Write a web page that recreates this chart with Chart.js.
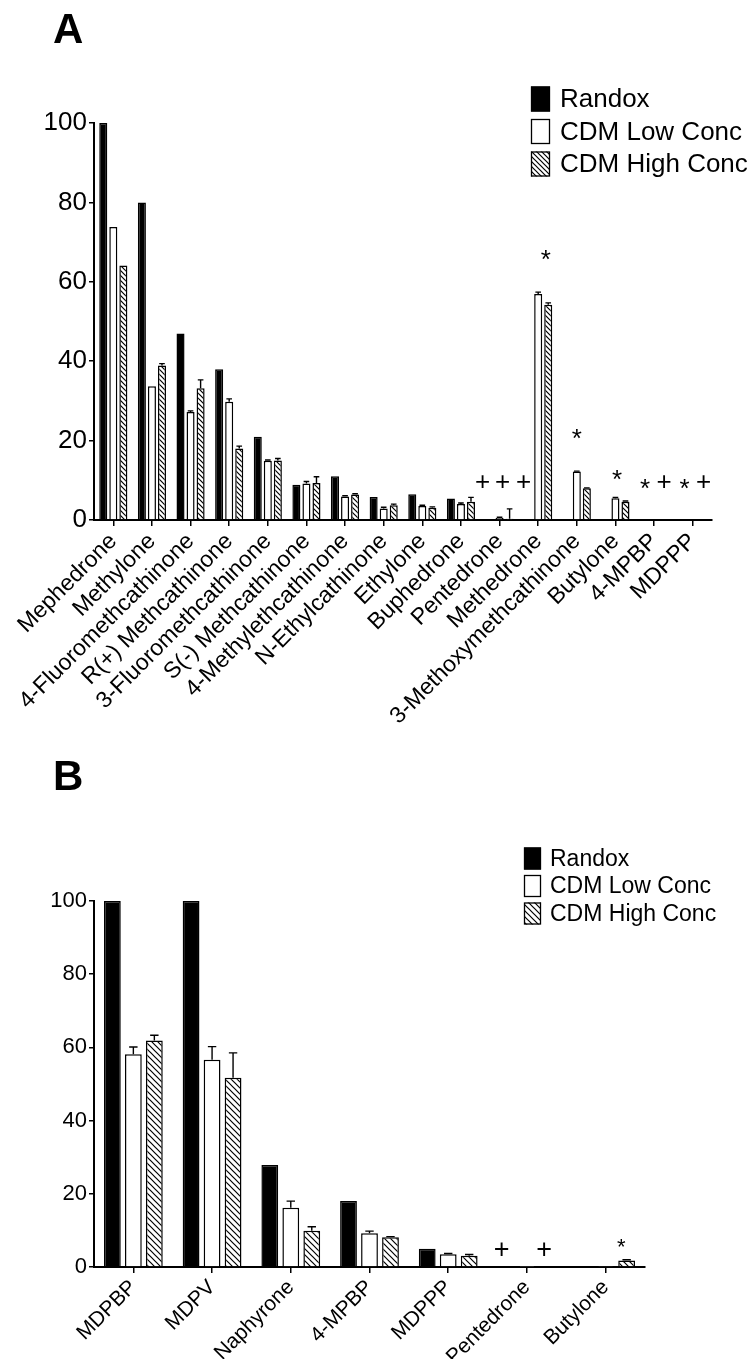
<!DOCTYPE html>
<html><head><meta charset="utf-8">
<script src="https://cdn.jsdelivr.net/npm/chart.js@4.4.1/dist/chart.umd.min.js"></script>
<style>
html,body{margin:0;padding:0;background:#fff;}
#wrap{position:relative;width:753px;height:1359px;overflow:hidden;}
canvas{position:absolute;left:0;}
#cA{top:0;} #cB{top:740px;}
</style></head><body>
<div id="wrap"><canvas id="cA" width="753" height="740"></canvas><canvas id="cB" width="753" height="619"></canvas></div>
<script>
const seriesNames = ['Randox','CDM Low Conc','CDM High Conc'];

// Panel A
const catsA = ['Mephedrone','Methylone','4-Fluoromethcathinone','R(+) Methcathinone','3-Fluoromethcathinone','S(-) Methcathinone','4-Methylethcathinone','N-Ethylcathinone','Ethylone','Buphedrone','Pentedrone','Methedrone','3-Methoxymethcathinone','Butylone','4-MPBP','MDPPP'];
const randoxA  = [100, 80, 47, 38, 21, 8.9, 11, 5.8, 6.5, 5.4, 0.2, 0, 0, 0, 0, 0];
const lowA     = [73.8, 33.7, 27.2, 29.8, 14.9, 9.2, 5.9, 2.9, 3.5, 4.0, 0.5, 56.9, 12.2, 5.5, 0, 0];
const highA    = [64.1, 38.9, 33.2, 18.0, 15.0, 9.3, 6.4, 3.7, 3.1, 4.6, 0.3, 54.2, 8.0, 4.6, 0, 0];
const lowErrA  = [0, 0, 0.3, 0.7, 0.2, 0.5, 0.2, 0.3, 0.2, 0.3, 0.2, 0.5, 0.1, 0.2, 0, 0];
const highErrA = [0, 0.5, 2.1, 0.6, 0.5, 1.6, 0.2, 0.3, 0.2, 1.1, 2.5, 0.5, 0.1, 0.2, 0, 0];
const yTicksA  = [0, 20, 40, 60, 80, 100];
// [category index, shift in category widths, value, symbol]
const marksA = [[10,-0.44,10,'+'],[10,0.08,10,'+'],[10,0.62,10,'+'],[11,0.2,67.3,'*'],[12,0,22.2,'*'],[13,0.04,11.9,'*'],[14,-0.23,9.6,'*'],[14,0.26,9.8,'+'],[15,-0.21,9.6,'*'],[15,0.28,9.8,'+']];

// Panel B
const catsB = ['MDPBP','MDPV','Naphyrone','4-MPBP','MDPPP','Pentedrone','Butylone'];
const randoxB  = [100, 100, 27.9, 18.0, 5.0, 0.2, 0];
const lowB     = [58.1, 56.6, 16.2, 9.2, 3.5, 0.1, 0.3];
const highB    = [61.9, 51.7, 9.9, 8.1, 3.1, 0.2, 1.8];
const lowErrB  = [2.0, 3.6, 1.8, 0.6, 0.2, 0, 0];
const highErrB = [1.4, 6.8, 1.1, 0.2, 0.3, 0, 0.2];
const yTicksB  = [0, 20, 40, 60, 80, 100];
const marksB = [[5,-0.32,5.2,'+'],[5,0.22,5.2,'+'],[6,0.2,7.0,'*']];

const FONT = '"Liberation Sans", Arial, Helvetica, sans-serif';

function hatch(size, lw){
  const c = document.createElement('canvas'); c.width = c.height = size;
  const g = c.getContext('2d');
  g.fillStyle = '#fff'; g.fillRect(0,0,size,size);
  g.strokeStyle = '#000'; g.lineWidth = lw; g.lineCap = 'square';
  g.beginPath();
  g.moveTo(0,0); g.lineTo(size,size);
  g.moveTo(-1,size-1); g.lineTo(1,size+1);
  g.moveTo(size-1,-1); g.lineTo(size+1,1);
  g.stroke();
  return g.createPattern(c,'repeat');
}

function makeChart(id, o){
  const ctx = document.getElementById(id).getContext('2d');
  const pat = hatch(o.hatch, 1.2);
  const fills = ['#000', '#fff', pat];
  const errs = [null, o.lowErr, o.highErr];

  const plug = {
    id: 'extras',
    afterDatasetsDraw(chart){
      const g = chart.ctx, xs = chart.scales.x, ys = chart.scales.y;
      g.save(); g.strokeStyle = '#000'; g.lineWidth = 1.4;
      errs.forEach((e, di) => {
        if (!e) return;
        const meta = chart.getDatasetMeta(di);
        const vals = chart.data.datasets[di].data;
        meta.data.forEach((el, i) => {
          if (!e[i]) return;
          const yt = ys.getPixelForValue(vals[i] + e[i]);
          const cw = el.width * o.cap;
          g.beginPath();
          g.moveTo(el.x, el.y); g.lineTo(el.x, yt);
          g.moveTo(el.x - cw/2, yt); g.lineTo(el.x + cw/2, yt);
          g.stroke();
        });
      });
      g.restore();
      g.save(); g.fillStyle = '#000'; g.textAlign = 'center'; g.textBaseline = 'alphabetic';
      const step = xs.getPixelForValue(1) - xs.getPixelForValue(0);
      o.marks.forEach(m => {
        const x = xs.getPixelForValue(m[0]) + m[1]*step;
        const y = ys.getPixelForValue(m[2]);
        const fs = m[3] === '*' ? o.starFont : o.plusFont;
        g.font = fs + 'px ' + FONT;
        const off = m[3] === '*' ? 0.575*fs : 0.355*fs;
        g.fillText(m[3], x, y + off);
      });
      g.restore();
    },
    afterDraw(chart){
      const g = chart.ctx;
      g.save();
      g.fillStyle = '#000'; g.font = 'bold 42px ' + FONT;
      g.textAlign = 'left'; g.textBaseline = 'alphabetic';
      g.fillText(o.title, 53, o.titleY);
      const L = o.legend;
      seriesNames.forEach((n, i) => {
        const cy = L.y + i*L.gap;
        g.fillStyle = fills[i];
        g.fillRect(L.x, cy - L.h/2, L.w, L.h);
        g.strokeStyle = '#000'; g.lineWidth = 1.3;
        g.strokeRect(L.x + 0.5, cy - L.h/2 + 0.5, L.w - 1, L.h - 1);
        g.fillStyle = '#000'; g.font = L.font + 'px ' + FONT;
        g.textBaseline = 'middle'; g.textAlign = 'left';
        g.fillText(n, L.tx, cy + 1);
      });
      g.restore();
    }
  };

  return new Chart(ctx, {
    type: 'bar',
    data: {
      labels: o.cats,
      datasets: [o.randox, o.low, o.high].map((d, i) => ({
        label: seriesNames[i], data: d,
        backgroundColor: fills[i], borderColor: '#000', borderWidth: 1.5,
        borderSkipped: 'bottom',
        categoryPercentage: o.catPct, barPercentage: 0.8
      }))
    },
    options: {
      responsive: false, animation: false, devicePixelRatio: 1,
      layout: { padding: { top: o.top, right: o.right, left: 0, bottom: 0 } },
      plugins: { legend: { display: false }, tooltip: { enabled: false } },
      scales: {
        x: {
          offset: true,
          grid: { display: true, offset: false, drawOnChartArea: false, drawTicks: true, tickLength: 6, color: '#000', lineWidth: 1.5 },
          border: { display: true, color: '#000', width: 2 },
          ticks: { autoSkip: false, minRotation: 45, maxRotation: 45, color: '#000', padding: o.xPad,
                   font: { family: FONT, size: o.xFont } },
          afterFit: s => { s.height = o.xH; }
        },
        y: {
          min: 0, max: 100,
          afterBuildTicks: s => { s.ticks = o.yTicks.map(v => ({ value: v })); },
          grid: { display: true, drawOnChartArea: false, drawTicks: true, tickLength: 5, color: '#000', lineWidth: 1.5 },
          border: { display: true, color: '#000', width: 2 },
          ticks: { color: '#000', padding: 2, font: { family: FONT, size: o.yFont } },
          afterFit: s => { s.width = 94; }
        }
      }
    },
    plugins: [plug]
  });
}

makeChart('cA', {
  cats: catsA, randox: randoxA, low: lowA, high: highA, lowErr: lowErrA, highErr: highErrA,
  yTicks: yTicksA, marks: marksA, hatch: 5, cap: 0.7, catPct: 0.78,
  top: 123, right: 41, xH: 220, xFont: 23, yFont: 26, xPad: 2, starFont: 26, plusFont: 26,
  title: 'A', titleY: 43,
  legend: { x: 531, y: 99, gap: 32.5, w: 19, h: 25, tx: 560, font: 26 }
});
makeChart('cB', {
  cats: catsB, randox: randoxB, low: lowB, high: highB, lowErr: lowErrB, highErr: highErrB,
  yTicks: yTicksB, marks: marksB, hatch: 6, cap: 0.5, catPct: 0.8,
  top: 161, right: 108, xH: 92, xFont: 21, yFont: 22, xPad: 2, starFont: 22, plusFont: 27,
  title: 'B', titleY: 50,
  legend: { x: 524, y: 118.5, gap: 27.5, w: 17, h: 22, tx: 550, font: 23 }
});
</script>
</body></html>
